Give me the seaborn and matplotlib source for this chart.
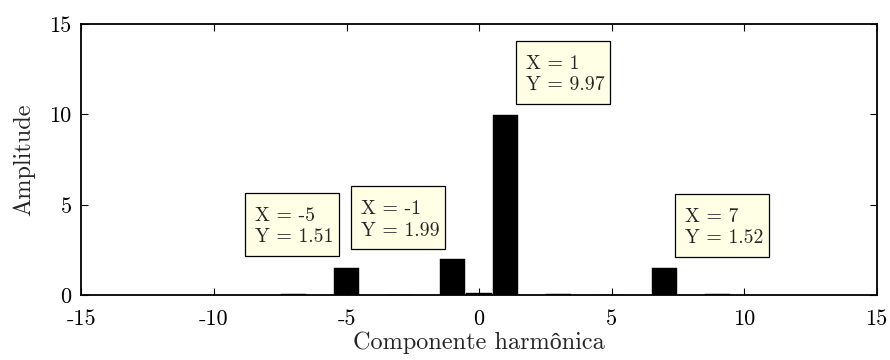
import matplotlib
matplotlib.use("Agg")
import matplotlib.pyplot as plt
from matplotlib.path import Path
import seaborn as sns
import pandas as pd

harmonics = [-7, -5, -3, -1, 0, 1, 3, 5, 7, 9]
amplitudes = [0.08, 1.51, 0.03, 1.99, 0.12, 9.97, 0.06, 0.01, 1.52, 0.04]
x_ticks = [-15, -10, -5, 0, 5, 10, 15]
y_ticks = [0, 5, 10, 15]
tips = [(-5, 1.51, "left", 15.6), (-1, 1.99, "left", 14.2),
        (1, 9.97, "right", 14.9), (7, 1.52, "right", 14.6)]

sns.set_theme(style="white")
plt.rcParams["font.family"] = ["cmr10", "Liberation Serif"]
plt.rcParams["axes.unicode_minus"] = False


def tipbox(x0, y0, width, height, mutation_size):
    pl, pr = 0.5 * mutation_size, 0.3 * mutation_size
    pb, pt = 0.5 * mutation_size, 0.72 * mutation_size
    x1, y1 = x0 - pl, y0 - pb
    x2, y2 = x0 + width + pr, y0 + height + pt
    return Path([(x1, y1), (x2, y1), (x2, y2), (x1, y2), (x1, y1)], closed=True)


df = pd.DataFrame({"h": harmonics, "a": amplitudes})

fig = plt.figure(figsize=(8.9, 3.6), dpi=100)
ax = fig.add_axes([0.0915, 0.18, 0.8935, 0.753])

sns.barplot(data=df, x="h", y="a", native_scale=True, width=0.95,
            color="black", edgecolor="black", linewidth=0.3,
            saturation=1, ax=ax, errorbar=None)

ax.set_xlim(-15, 15)
ax.set_ylim(0, 15)
ax.set_xticks(x_ticks)
ax.set_xticklabels([str(t) for t in x_ticks])
ax.set_yticks(y_ticks)
ax.set_yticklabels([str(t) for t in y_ticks])
ax.tick_params(direction="in", length=5, width=0.8, top=True, right=True,
               bottom=True, left=True, labelsize=16, colors="black")
ax.tick_params(axis="x", pad=10)
ax.tick_params(axis="y", pad=7)
for s in ax.spines.values():
    s.set_visible(True)
    s.set_color("black")
    s.set_linewidth(1.3)

ax.set_xlabel("Componente harmônica", fontsize=17.5, labelpad=2)
ax.set_ylabel("Amplitude", fontsize=17.5, labelpad=10)

for xv, yv, side, dy in tips:
    if side == "left":
        off = (-9.4, dy)
        ha = "right"
    else:
        off = (14.4, dy)
        ha = "left"
    ax.annotate(f"X = {xv}\nY = {yv:.2f}", xy=(xv, yv), xytext=off,
                textcoords="offset points", ha=ha, va="bottom",
                multialignment="left",
                fontsize=14.3, linespacing=1.25,
                bbox=dict(boxstyle=tipbox, fc="#ffffe6",
                          ec="black", lw=0.9))

fig.savefig("out.png", dpi=100)
